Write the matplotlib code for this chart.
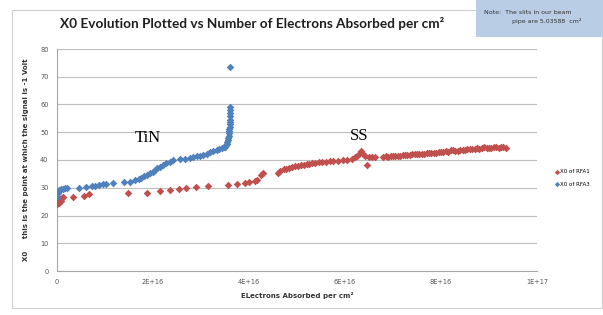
import numpy as np
import matplotlib
matplotlib.use('Agg')
import matplotlib.pyplot as plt
from matplotlib.patches import Rectangle

# X0 of RFA1 (SS), x in units of 1E+16 electrons/cm^2
rfa1_x = [0.00, 0.02, 0.03, 0.05, 0.06, 0.08, 0.10, 0.13,
          0.34, 0.56, 0.67, 1.47, 1.87, 2.15, 2.35, 2.55, 2.69, 2.89, 3.14, 3.56,
          3.74, 3.92, 3.99, 4.12, 4.16, 4.26, 4.30, 4.61, 4.65, 4.72, 4.78, 4.84,
          4.90, 4.96, 5.02, 5.08, 5.14, 5.20, 5.26, 5.32, 5.38, 5.45, 5.52, 5.60,
          5.68, 5.76, 5.86, 5.96, 6.04, 6.14, 6.20, 6.26, 6.31, 6.34, 6.38, 6.42,
          6.46, 6.50, 6.56, 6.62,
          6.80, 6.85, 6.90, 6.95, 7.00, 7.05, 7.10, 7.15, 7.20, 7.25, 7.30, 7.35,
          7.40, 7.45, 7.50, 7.55, 7.60, 7.65, 7.70, 7.75, 7.80, 7.85, 7.90, 7.95,
          8.00, 8.05, 8.10, 8.15, 8.20, 8.25, 8.30, 8.35, 8.40, 8.45, 8.50, 8.55,
          8.60, 8.65, 8.70, 8.75, 8.80, 8.85, 8.90, 8.95, 9.00, 9.05, 9.10, 9.15,
          9.20, 9.25, 9.30, 9.35]
rfa1_y = [24.2, 25.0, 25.6, 24.6, 26.0, 25.3, 26.4, 26.8,
          26.8, 27.0, 27.6, 28.0, 28.2, 28.7, 29.1, 29.4, 29.8, 30.2, 30.5, 30.9,
          31.3, 31.7, 32.2, 32.5, 32.8, 34.6, 35.4, 35.2, 36.1, 36.6, 36.9, 37.2,
          37.4, 37.7, 37.9, 38.1, 38.3, 38.5, 38.7, 38.9, 39.0, 39.2, 39.3, 39.4,
          39.5, 39.6, 39.7, 39.9, 40.0, 40.4, 41.0, 41.6, 42.6, 43.4, 42.3, 41.5,
          38.2, 41.2, 41.0, 41.0,
          41.0, 41.3, 41.2, 41.4, 41.4, 41.5, 41.6, 41.6, 41.7, 41.8, 41.8, 41.9,
          42.0, 42.0, 42.1, 42.2, 42.2, 42.3, 42.4, 42.4, 42.6, 42.5, 42.7, 42.8,
          42.8, 43.0, 43.2, 43.0, 43.5, 43.6, 43.2, 43.4, 43.6, 43.5, 43.7, 44.0,
          43.8, 43.9, 44.1, 44.3, 44.0, 44.3, 44.6, 44.4, 44.5, 44.3, 44.6, 44.8,
          44.5, 44.7, 44.8, 44.5]

# X0 of RFA3 (TiN)
rfa3_x = [0.00, 0.01, 0.02, 0.03, 0.05, 0.08, 0.12, 0.17, 0.20, 0.46, 0.60, 0.72,
          0.79, 0.88, 0.95, 1.03, 1.16, 1.40, 1.52, 1.63, 1.70, 1.76, 1.82, 1.87,
          1.94, 1.99, 2.04, 2.08, 2.14, 2.21, 2.28, 2.35, 2.42, 2.56, 2.67, 2.77,
          2.84, 2.91, 2.98, 3.05, 3.12, 3.19, 3.26, 3.33, 3.38, 3.43, 3.47, 3.50,
          3.52, 3.54, 3.55, 3.56, 3.57, 3.58, 3.58, 3.59, 3.59, 3.60, 3.60, 3.60,
          3.61, 3.61, 3.61, 3.60, 3.60, 3.60]
rfa3_y = [26.5, 27.6, 28.2, 28.8, 29.2, 29.4, 29.6, 29.8, 29.9, 30.0, 30.3, 30.5,
          30.7, 31.0, 31.2, 31.4, 31.6, 32.0, 32.2, 32.8, 33.1, 33.6, 34.1, 34.6,
          35.2, 35.8, 36.5, 37.0, 37.5, 38.2, 38.8, 39.4, 40.0, 40.4, 40.4, 40.6,
          41.0, 41.4, 41.6, 41.8, 42.3, 43.0, 43.3, 43.6, 43.9, 44.2, 44.6, 44.8,
          45.3, 45.8, 46.5, 47.2, 48.0, 48.8, 49.6, 50.4, 51.2, 52.0, 52.8, 53.6,
          54.4, 56.0, 56.8, 58.0, 59.2, 73.6]

x_ticks = [0, 2e16, 4e16, 6e16, 8e16, 1e17]
x_tick_labels = ['0', '2E+16', '4E+16', '6E+16', '8E+16', '1E+17']
y_ticks = [0, 10, 20, 30, 40, 50, 60, 70, 80]

red = '#C0504D'
blue = '#4F81BD'
W, H = 603, 315

fig = plt.figure(figsize=(W / 100, H / 100), dpi=100)
# outer chart frame
fig.patches.append(Rectangle((12 / W, 1 - 308 / H), 590 / W, 298 / H, transform=fig.transFigure,
                             fill=False, edgecolor='#D0D0D0', lw=0.8))

ax = fig.add_axes([57 / W, 1 - 271 / H, 480 / W, 222 / H])
ax.scatter(np.array(rfa1_x) * 1e16, rfa1_y, marker='D', s=15, color=red, lw=0, label='X0 of RFA1', zorder=3)
ax.scatter(np.array(rfa3_x) * 1e16, rfa3_y, marker='D', s=15, color=blue, lw=0, label='X0 of RFA3', zorder=3)

ax.set_xlim(0, 1e17)
ax.set_ylim(0, 80)
ax.set_xticks(x_ticks)
ax.set_xticklabels(x_tick_labels)
ax.set_yticks(y_ticks)
ax.tick_params(length=0, labelsize=4.8, labelcolor='#555555', pad=6)
ax.grid(axis='y', color='#BFBFBF', lw=0.8)
ax.set_axisbelow(True)
for s in ['top', 'right']:
    ax.spines[s].set_visible(False)
for s in ['left', 'bottom']:
    ax.spines[s].set_color('#A6A6A6')
    ax.spines[s].set_linewidth(0.8)

ax.set_xlabel('ELectrons Absorbed per cm²', fontsize=5, fontweight='bold', color='#333333', labelpad=5)
ax.set_ylabel('X0     this is the point at which the signal is -1 Volt', fontsize=5,
              fontweight='bold', color='#333333', labelpad=8)

ax.text(1.90e16, 47.9, 'TiN', family='Liberation Serif', fontsize=12, ha='center', va='center')
ax.text(6.29e16, 48.5, 'SS', family='Liberation Serif', fontsize=12, ha='center', va='center')

fig.text(60 / W, 1 - 23 / H, 'X0 Evolution Plotted vs Number of Electrons Absorbed per cm²',
         family='Lato', fontsize=9.8, fontweight='bold', color='#1F1F1F', va='center', ha='left')

# note box
fig.patches.append(Rectangle((476 / W, 1 - 37 / H), 127 / W, 37 / H, transform=fig.transFigure,
                             facecolor='#B9CDE5', edgecolor='none'))
fig.text(484 / W, 1 - 10 / H, 'Note:  The slits in our beam\n              pipe are 5.03588  cm²',
         fontsize=4.5, color='#333333', va='top', ha='left', linespacing=1.6)

fig.legend(loc='center left', bbox_to_anchor=(550 / W, 1 - 178 / H), frameon=False, fontsize=4,
           handletextpad=0.1, handlelength=0.8, labelspacing=1.4, markerscale=0.7)

plt.savefig('out.png', dpi=100)
